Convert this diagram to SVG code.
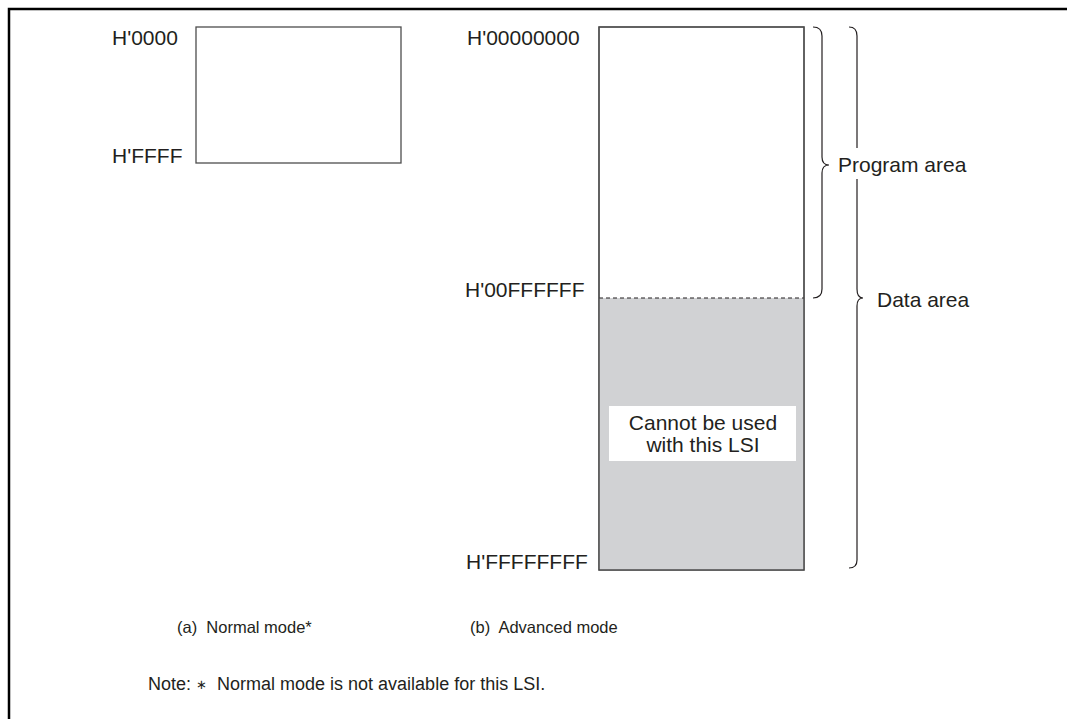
<svg xmlns="http://www.w3.org/2000/svg" width="1067" height="719" viewBox="0 0 1067 719">
<style>
text{font-family:"Liberation Sans",Arial,sans-serif;font-size:21px;fill:#231f20}
text.s{font-size:16.5px}
text.n{font-size:18px}
.box{fill:#fff;stroke:#4d4d4d;stroke-width:1.3}
.br{fill:none;stroke:#231f20;stroke-width:1.2}
</style>
<rect width="1067" height="719" fill="#fff"/>
<path d="M9,719 V9 H1067" fill="none" stroke="#000" stroke-width="2.5"/>
<g id="normal">
<rect class="box" x="196" y="27" width="205" height="136"/>
<text x="112" y="45">H'0000</text>
<text x="112" y="163">H'FFFF</text>
</g>
<g id="advanced">
<rect class="box" x="599" y="27" width="205" height="543"/>
<rect x="599.6" y="298" width="203.8" height="271.4" fill="#d1d2d4"/>
<line x1="599" y1="298" x2="804" y2="298" stroke="#231f20" stroke-width="1.2" stroke-dasharray="4,3"/>
<rect x="599" y="27" width="205" height="543" fill="none" stroke="#4d4d4d" stroke-width="1.3"/>
<text x="467" y="45">H'00000000</text>
<text x="465" y="297">H'00FFFFFF</text>
<text x="466" y="569">H'FFFFFFFF</text>
</g>
<g id="note-box">
<rect x="609" y="406" width="187" height="55" fill="#fff"/>
<text x="703" y="430" text-anchor="middle">Cannot be used</text>
<text x="703" y="452" text-anchor="middle">with this LSI</text>
</g>
<g id="connectors">
<path class="br" d="M813,27 Q822,27 822,36 V157 Q822,165 829,165 Q822,165 822,173 V289 Q822,298 813,298"/>
<path class="br" d="M849,27 Q857,27 857,36 V148 M857,179 V289 Q857,298 863,298 Q857,298 857,306 V560 Q857,568 849,568"/>
</g>
<g id="labels">
<text x="838" y="172">Program area</text>
<text x="877" y="307">Data area</text>
<text class="s" x="177" y="633" xml:space="preserve">(a)  Normal mode*</text>
<text class="s" x="470" y="633" xml:space="preserve">(b)  Advanced mode</text>
<text class="n" x="148" y="690" xml:space="preserve">Note: <tspan font-size="13" dy="-1">∗</tspan><tspan dy="1">  Normal mode is not available for this LSI.</tspan></text>
</g>
</svg>
